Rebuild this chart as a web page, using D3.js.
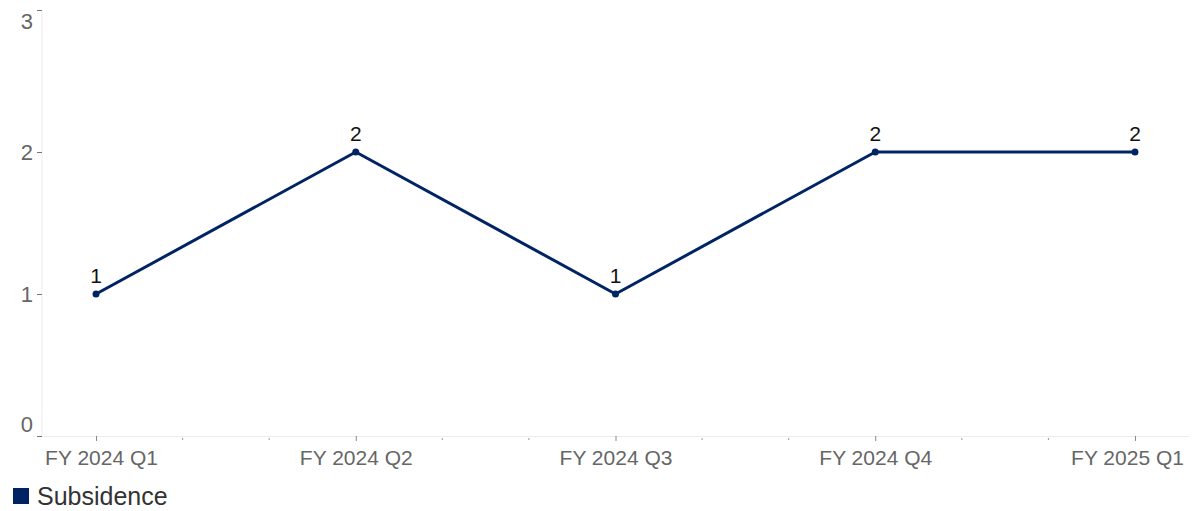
<!DOCTYPE html>
<html>
<head>
<meta charset="utf-8">
<script src="https://cdn.jsdelivr.net/npm/d3@7"></script>
<style>
  body { margin: 0; background: #fff; }
  svg { display: block; font-family: "Liberation Sans", Arial, sans-serif; }
</style>
</head>
<body>
<svg id="chart" width="1193" height="511"></svg>
<script>
const quarters = ['FY 2024 Q1', 'FY 2024 Q2', 'FY 2024 Q3', 'FY 2024 Q4', 'FY 2025 Q1'];
const subsidence = [1, 2, 1, 2, 2];
const yTicks = [0, 1, 2, 3];
const seriesName = 'Subsidence';

const w = 1193, h = 511;
const margin = { top: 10, right: 4, bottom: 75, left: 42 };
const lineColor = '#002463';

const svg = d3.select('#chart');

const xScale = d3.scalePoint()
  .domain(quarters)
  .range([margin.left, w - margin.right])
  .padding(0.208);

const yScale = d3.scaleLinear()
  .domain([0, 3])
  .range([h - margin.bottom, margin.top]);

const x0 = margin.left, x1 = w - margin.right, yb = h - margin.bottom;

// plot frame lines
svg.append('line')
  .attr('x1', x0).attr('x2', x0)
  .attr('y1', margin.top).attr('y2', yb)
  .attr('stroke', '#ececec').attr('stroke-width', 1);
svg.append('line')
  .attr('x1', x0).attr('x2', x1)
  .attr('y1', yb + 0.5).attr('y2', yb + 0.5)
  .attr('stroke', '#ececec').attr('stroke-width', 1);

// y axis
const yAxis = d3.axisLeft(yScale).tickValues(yTicks).tickSize(5).tickPadding(4).tickFormat(d3.format('d'));
const gy = svg.append('g').attr('transform', `translate(${x0},0)`).call(yAxis);
gy.select('.domain').remove();
gy.selectAll('.tick line').attr('stroke', '#777');
gy.selectAll('.tick text')
  .attr('fill', '#666')
  .style('font-size', '22px')
  .attr('dy', d => d === 0 ? '-0.2em' : d === 3 ? '0.85em' : '0.35em');

// x axis
const xAxis = d3.axisBottom(xScale).tickSize(5).tickPadding(9);
const gx = svg.append('g').attr('transform', `translate(0,${yb})`).call(xAxis);
gx.select('.domain').remove();
gx.selectAll('.tick line').attr('stroke', '#888');
const last = quarters.length - 1;
gx.selectAll('.tick text')
  .attr('fill', '#666')
  .style('font-size', '21px')
  .attr('dx', (d, i) => i === 0 ? 5 : i === last ? -8 : 0);

// minor ticks at thirds between categories
const step = xScale.step();
const minor = [];
quarters.slice(0, -1).forEach(q => {
  minor.push(xScale(q) + step / 3, xScale(q) + 2 * step / 3);
});
svg.append('g').selectAll('line')
  .data(minor)
  .join('line')
  .attr('x1', d => d).attr('x2', d => d)
  .attr('y1', yb + 2).attr('y2', yb + 4)
  .attr('stroke', '#999');

// line
const data = quarters.map((q, i) => ({ name: q, value: subsidence[i] }));
const lineGenerator = d3.line()
  .x(d => xScale(d.name))
  .y(d => yScale(d.value));

svg.append('path')
  .datum(data)
  .attr('d', lineGenerator)
  .attr('fill', 'none')
  .attr('stroke', lineColor)
  .attr('stroke-width', 3)
  .attr('stroke-linejoin', 'round');

svg.append('g').selectAll('circle')
  .data(data)
  .join('circle')
  .attr('cx', d => xScale(d.name))
  .attr('cy', d => yScale(d.value))
  .attr('r', 3.5)
  .attr('fill', lineColor);

svg.append('g').selectAll('text')
  .data(data)
  .join('text')
  .attr('x', d => xScale(d.name))
  .attr('y', d => yScale(d.value) - 11)
  .attr('text-anchor', 'middle')
  .attr('fill', '#111')
  .style('font-size', '21px')
  .text(d => d.value);

// legend
const lg = svg.append('g').attr('transform', 'translate(13,488)');
lg.append('rect').attr('width', 16).attr('height', 16).attr('fill', lineColor);
lg.append('text')
  .attr('x', 24).attr('y', 17)
  .attr('fill', '#333')
  .style('font-size', '25px')
  .text(seriesName);
</script>
</body>
</html>
